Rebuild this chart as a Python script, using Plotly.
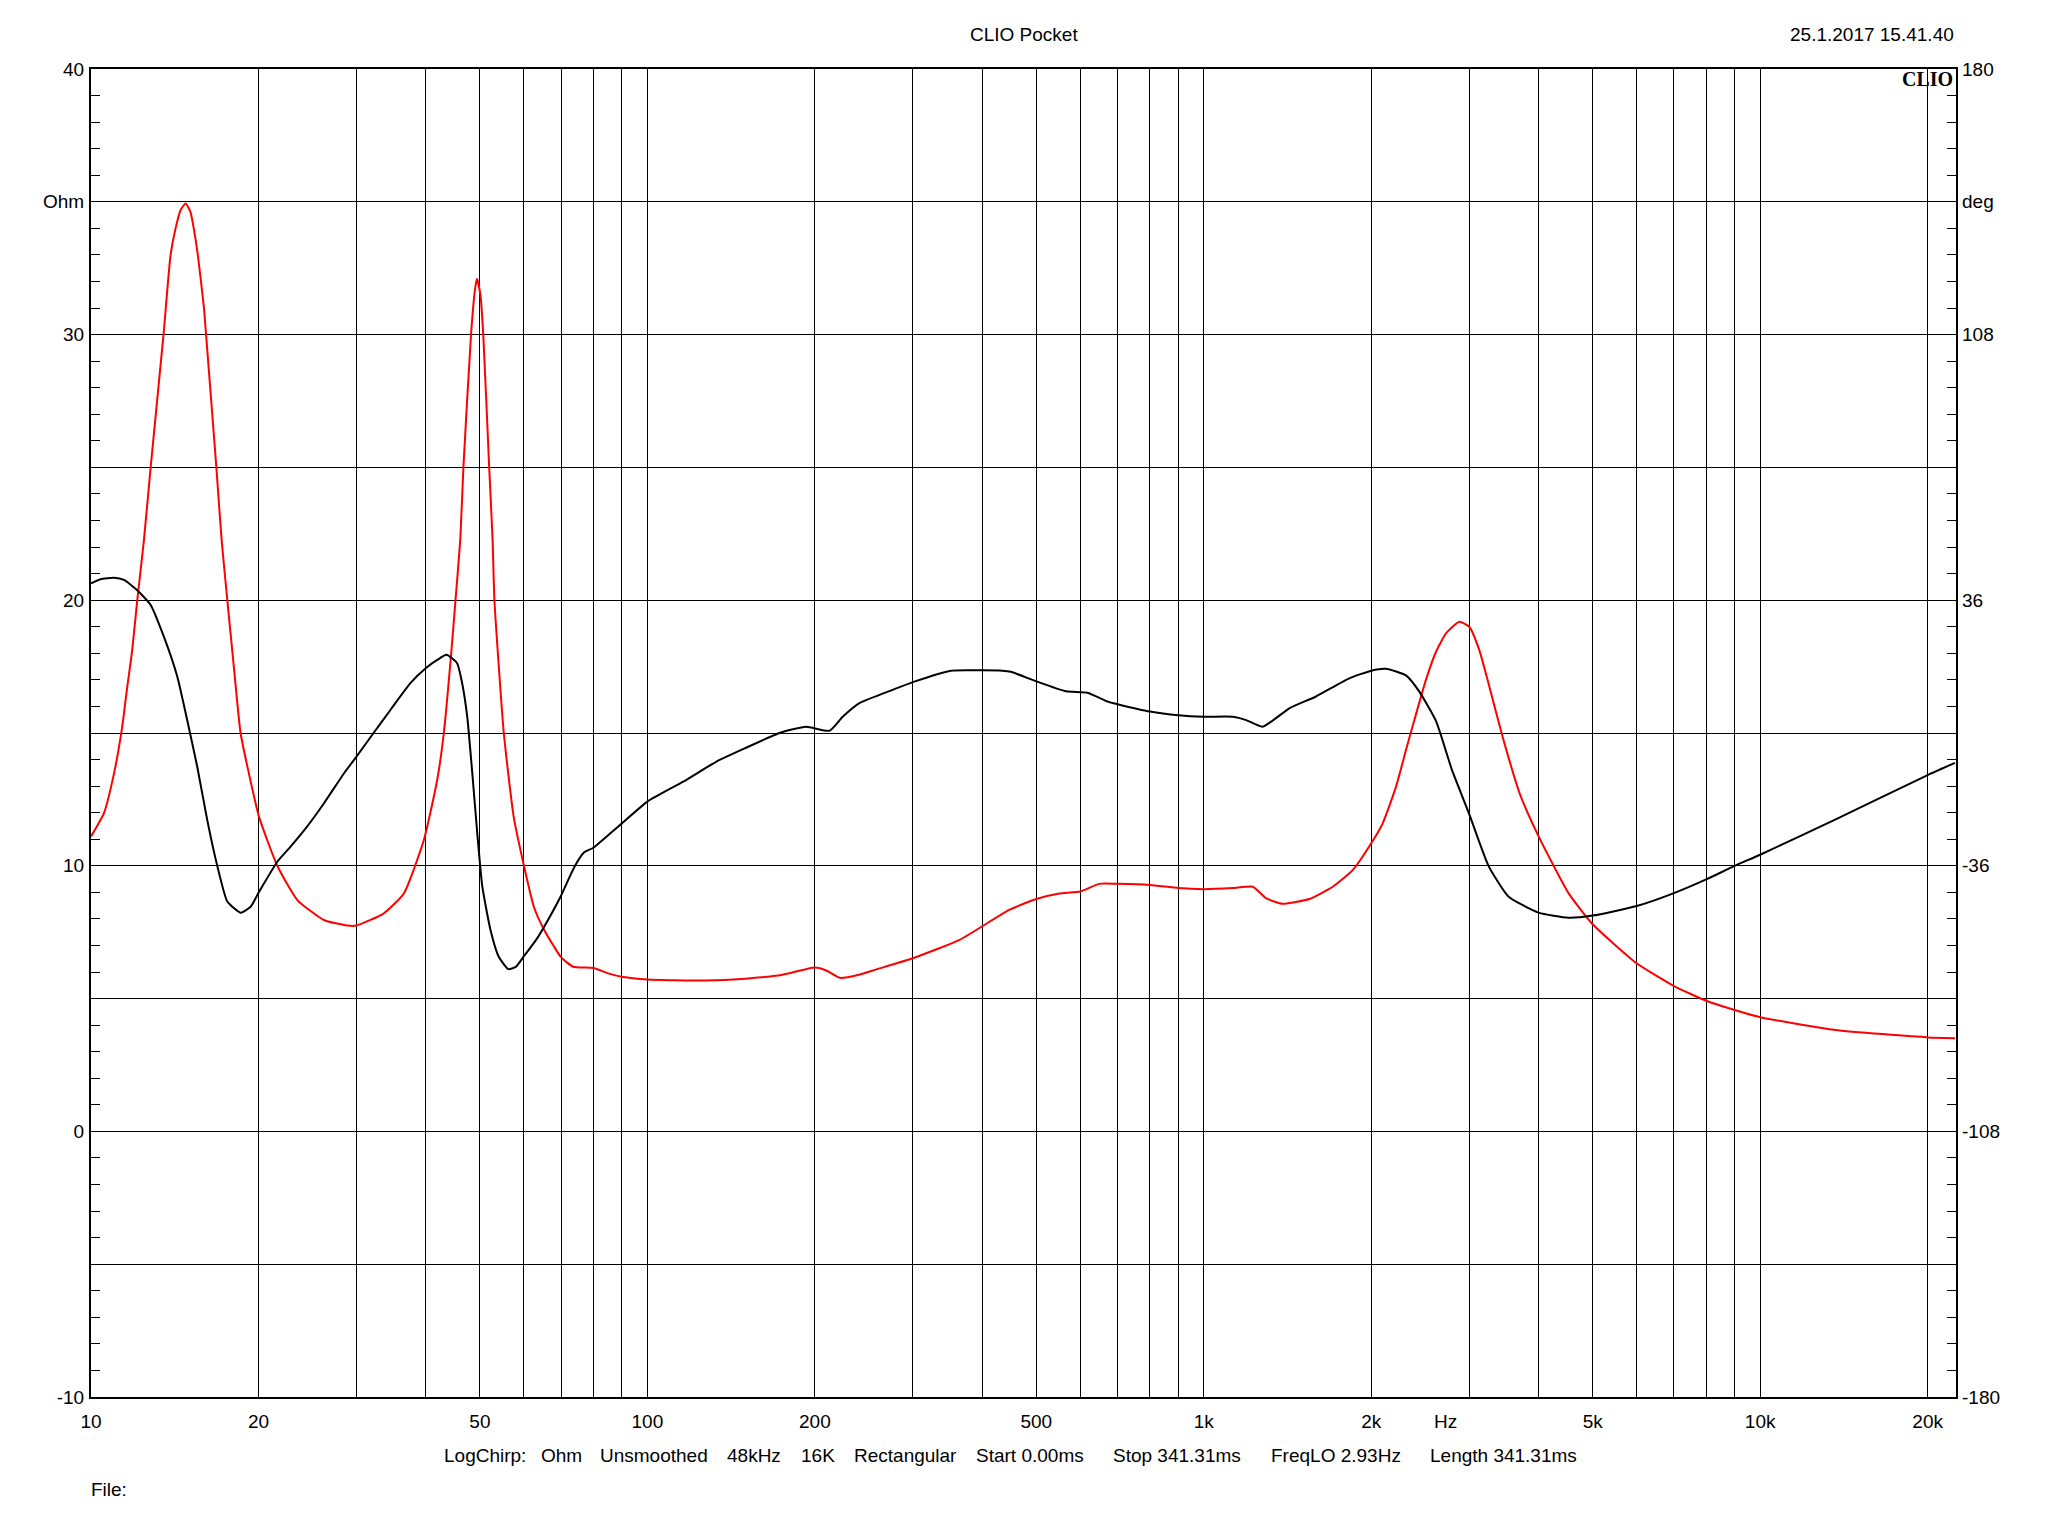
import plotly.graph_objects as go

# ---------------- data ----------------
# Impedance magnitude (Ohm), red curve, left axis
imp_freq = [10, 10.55, 11.0, 11.38, 11.6, 11.86, 12.11, 12.45, 12.8, 13.5, 13.9, 14.19, 14.5, 14.8,
            15.1, 15.3, 15.56, 15.96, 16.1, 16.8, 17.17, 17.58, 18.06, 18.57, 19.22, 20.04, 21.62,
            23.49, 26.21, 28.88, 30, 33.6, 36.5, 39.65, 41.9, 43.07, 44.3, 45.2, 46.1, 46.7, 48.2,
            49.0, 49.4, 50.1, 50.7, 51.96, 52.7, 53.1, 55.2, 57.5, 60, 62.5, 65, 68, 70, 73.5, 80,
            85, 90, 100, 127, 150, 175, 200, 210, 222, 240, 258, 300, 364, 447, 500, 550, 600, 648,
            700, 800, 900, 1000, 1128, 1225, 1294, 1386, 1548, 1705, 1852, 2000, 2097, 2216, 2309,
            2390, 2507, 2615, 2725, 2880, 3000, 3128, 3261, 3444, 3700, 4000, 4525, 5000, 6000,
            7000, 8000, 9000, 10000, 13640, 20000, 22400]
imp_ohm = [11.1, 11.98, 13.48, 15.24, 16.62, 18.13, 20.0, 22.27, 25.0, 30.0, 33.0, 34.0, 34.7, 34.94,
           34.6, 34.0, 33.0, 31.0, 30.0, 25.0, 22.27, 20.0, 17.5, 15.0, 13.48, 11.85, 10.0,
           8.71, 7.96, 7.75, 7.75, 8.21, 8.96, 10.97, 13.23, 15.0, 17.75, 20.0, 22.27, 25.0, 30.0,
           31.7, 32.1, 31.5, 30.0, 25.0, 22.27, 20.0, 15.0, 11.85, 10.0, 8.46, 7.65, 6.95, 6.55, 6.2, 6.15,
           5.95, 5.82, 5.72, 5.68, 5.75, 5.9, 6.17, 6.05, 5.78, 5.9, 6.1, 6.52, 7.21, 8.34, 8.75, 8.96, 9.03, 9.32,
           9.32, 9.28, 9.16, 9.12, 9.16, 9.21, 8.78, 8.57, 8.75, 9.21, 9.84, 10.85, 11.6, 12.98, 14.36,
           15.48, 16.99, 18.06, 18.75, 19.19, 19.0, 18.12, 16.74, 14.86, 12.7, 11.1, 8.97, 7.8, 6.33,
           5.47, 4.92, 4.57, 4.30, 3.82, 3.54, 3.51]

# Impedance phase (deg), black curve, right axis
ph_freq = [10, 10.4, 11.0, 11.46, 12.11, 12.8, 13.52, 14.29, 14.89, 15.52, 16.18, 16.87, 17.58, 18.57,
           19.36, 20.04, 21.62, 22.84, 24.47, 26.21, 28.5, 30, 32.2, 34.55, 37.5, 40, 41.9, 43.55,
           45.5, 46.46, 47.45, 48.45, 49.46, 50.5, 52.24, 54, 56.2, 58, 60, 63, 65, 69.7, 73.8,
           76.9, 80, 85.8, 90, 100, 116, 132.9, 150.5, 172.7, 192.9, 212.4, 224.4, 240.5, 276, 300,
           351.4, 400, 434.5, 450, 500, 565.6, 618, 672, 700, 800, 900, 1000, 1128, 1192, 1276,
           1425, 1591, 1826, 2000, 2125, 2309, 2440, 2615, 2793, 3000, 3251, 3532, 4000, 4525,
           5000, 6000, 7000, 8000, 9000, 10000, 13640, 20000, 22400]
ph_deg = [40.6, 41.7, 42.1, 41.5, 38.7, 34.7, 26.1, 15.3, 3.5, -9.1, -23.6, -36.1, -45.7, -48.7,
          -47.1, -43.1, -34.9, -30.8, -25.3, -19.1, -10.9, -6.4, 0.0, 6.3, 13.5, 17.6, 19.8, 21.2,
          18.9, 13.5, 4.4, -10.9, -27.2, -41.6, -53.4, -60.5, -64.0, -63.4, -60.5, -56.2, -52.9, -44.6, -36.5,
          -32.4, -31.1, -27.2, -24.5, -18.6, -13.2, -7.8, -4.0, 0.0, 1.7, 0.6, 4.4, 8.1, 11.7, 13.8,
          16.9, 17.0, 16.9, 16.6, 14.0, 11.3, 10.9, 8.5, 7.8, 5.8, 4.8, 4.4, 4.4, 3.5, 1.7,
          6.7, 9.9, 14.8, 16.9, 17.4, 15.6, 11.2, 3.2, -10.0, -22.0, -36.1, -44.4, -48.7, -50.1,
          -49.5, -46.9, -43.4, -39.7, -36.0, -33.0, -23.5, -11.4, -8.1]

# axis ticks
x_tickvals = [10, 20, 30, 40, 50, 60, 70, 80, 90, 100, 200, 300, 400, 500, 600, 700, 800, 900,
              1000, 2000, 3000, 4000, 5000, 6000, 7000, 8000, 9000, 10000, 20000]
x_labels = {10: "10", 20: "20", 50: "50", 100: "100", 200: "200", 500: "500", 1000: "1k",
            2000: "2k", 5000: "5k", 10000: "10k", 20000: "20k"}
y_tickvals = [-10, -5, 0, 5, 10, 15, 20, 25, 30, 35, 40]
y_ticktext = ["-10", "", "0", "", "10", "", "20", "", "30", "Ohm", "40"]
y2_tickvals = [-180, -144, -108, -72, -36, 0, 36, 72, 108, 144, 180]
y2_ticktext = ["-180", "", "-108", "", "-36", "", "36", "", "108", "deg", "180"]

title_text = "CLIO Pocket"
date_text = "25.1.2017 15.41.40"
footer_items = ["LogChirp:", "Ohm", "Unsmoothed", "48kHz", "16K", "Rectangular", "Start 0.00ms",
                "Stop 341.31ms", "FreqLO 2.93Hz", "Length 341.31ms"]
footer_x_px = [442, 539, 598, 725, 799, 852, 974, 1111, 1269, 1428]

# ---------------- figure ----------------
FONT = "Liberation Sans, Arial, sans-serif"
OFF = 8                       # default body margin of the html page
L, R, T, B = 91, 1956, 69, 1397   # plot area in page pixels
W, H = 2048 - 2 * OFF, 1536 - 2 * OFF

fig = go.Figure()
fig.add_trace(go.Scatter(x=ph_freq, y=ph_deg, yaxis="y2", mode="lines",
                         line=dict(color="#000000", width=2, shape="spline", smoothing=0.5),
                         showlegend=False, hoverinfo="skip"))
fig.add_trace(go.Scatter(x=imp_freq, y=imp_ohm, mode="lines",
                         line=dict(color="#ff0000", width=2, shape="spline", smoothing=0.5),
                         showlegend=False, hoverinfo="skip"))

fig.update_layout(
    width=W, height=H, autosize=False,
    margin=dict(l=L - OFF, r=W - (R - OFF), t=T - OFF, b=H - (B - OFF), pad=0),
    paper_bgcolor="white", plot_bgcolor="white",
    font=dict(family=FONT, size=19, color="black"),
    xaxis=dict(type="log", range=[1, 4.352], tickmode="array", tickvals=x_tickvals,
               ticktext=[x_labels.get(v, "") for v in x_tickvals],
               showgrid=True, gridcolor="black", gridwidth=1,
               showline=True, linecolor="black", linewidth=2, mirror=True,
               ticks="", zeroline=False, ticklabelstandoff=6,
               tickfont=dict(family=FONT, size=19, color="black")),
    yaxis=dict(range=[-10, 40], tickmode="array", tickvals=y_tickvals, ticktext=y_ticktext,
               showgrid=True, gridcolor="black", gridwidth=1,
               showline=True, linecolor="black", linewidth=2, mirror=True,
               ticks="inside", ticklen=9, tickcolor="black", zeroline=False,
               ticklabelstandoff=1,
               minor=dict(tickmode="linear", tick0=0, dtick=1, ticks="inside", ticklen=9,
                          tickcolor="black", showgrid=False),
               tickfont=dict(family=FONT, size=19, color="black")),
    yaxis2=dict(range=[-180, 180], overlaying="y", side="right", tickmode="array",
                tickvals=y2_tickvals, ticktext=y2_ticktext, showgrid=False, zeroline=False,
                ticks="inside", ticklen=9, tickcolor="black", showline=False,
                ticklabelstandoff=5,
                minor=dict(tickmode="linear", tick0=-180, dtick=7.2, ticks="inside", ticklen=9,
                           tickcolor="black", showgrid=False),
                tickfont=dict(family=FONT, size=19, color="black")),
)

def px_x(px):
    return (px - L) / (R - L)

def px_y(py):
    return (B - py) / (B - T)

ann = []
ann.append(dict(text=title_text, x=px_x(1024), y=px_y(34), xref="paper", yref="paper",
                xanchor="center", yanchor="middle", showarrow=False, font=dict(size=19)))
ann.append(dict(text=date_text, x=1.0, y=px_y(34), xref="paper", yref="paper",
                xanchor="right", yanchor="middle", showarrow=False, font=dict(size=19)))
ann.append(dict(text="<b>CLIO</b>", x=px_x(1955), y=px_y(79), xref="paper", yref="paper",
                xanchor="right", yanchor="middle", showarrow=False,
                font=dict(family="Liberation Serif, Times New Roman, serif", size=20)))
ann.append(dict(text="Hz", x=px_x(1445), y=px_y(1421), xref="paper", yref="paper",
                xanchor="center", yanchor="middle", showarrow=False, font=dict(size=19)))
for txt, xp in zip(footer_items, footer_x_px):
    ann.append(dict(text=txt, x=px_x(xp), y=px_y(1455), xref="paper", yref="paper",
                    xanchor="left", yanchor="middle", showarrow=False, font=dict(size=19)))
ann.append(dict(text="File:", x=px_x(89), y=px_y(1489), xref="paper", yref="paper",
                xanchor="left", yanchor="middle", showarrow=False, font=dict(size=19)))
fig.update_layout(annotations=ann)

fig.write_html("out.html")
